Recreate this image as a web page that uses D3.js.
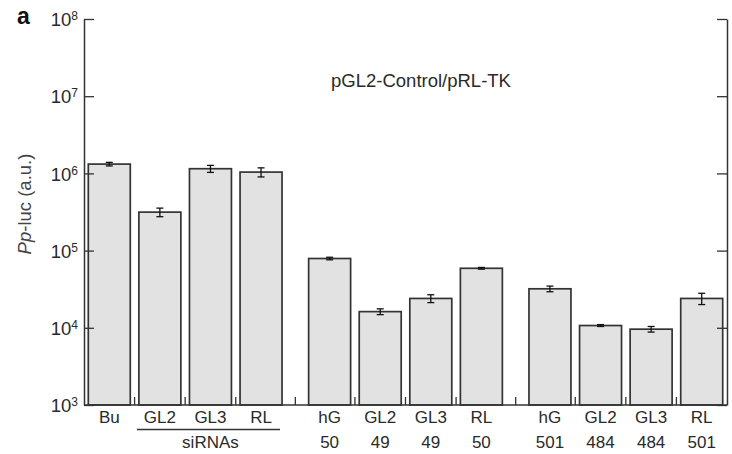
<!DOCTYPE html>
<html>
<head>
<meta charset="utf-8">
<script src="https://cdn.jsdelivr.net/npm/d3@7"></script>
<style>
  body { margin: 0; background: #fff; }
  svg { display: block; font-family: "Liberation Sans", Arial, Helvetica, sans-serif; }
</style>
</head>
<body>
<svg id="chart" width="732" height="454"></svg>
<script>
// bar data
const labels = ['Bu', 'GL2', 'GL3', 'RL', 'hG', 'GL2', 'GL3', 'RL', 'hG', 'GL2', 'GL3', 'RL'];
const subLabels = ['', '', '', '', '50', '49', '49', '50', '501', '484', '484', '501'];
const groups = [0, 0, 0, 0, 1, 1, 1, 1, 2, 2, 2, 2];
const values = [1.32e6, 3.15e5, 1.15e6, 1.04e6, 7.9e4, 1.62e4, 2.4e4, 5.9e4, 3.2e4, 1.07e4, 9.6e3, 2.4e4];
const errors = [0.07e6, 0.4e5, 0.12e6, 0.14e6, 0.3e4, 0.14e4, 0.28e4, 0.15e4, 0.27e4, 0.03e4, 0.8e3, 0.4e4];
const yTicks = [1e3, 1e4, 1e5, 1e6, 1e7, 1e8];

const groupGap = 0.356; // extra space between groups, in bar slots
const svg = d3.select('#chart');
const plotL = 84, plotR = 727, plotT = 19, plotB = 405;

// position of each bar in slot units
const slot = (d, i) => i + groups[i] * groupGap;
const nSlots = 11 + 2 * groupGap;

const x = d3.scaleLinear().domain([-0.5, nSlots + 0.5]).range([plotL, plotR]);
const y = d3.scaleLog().domain([1e3, 1e8]).range([plotB, plotT]);
const barW = (x(1) - x(0)) * 0.83;

// bars
svg.selectAll('.bar')
  .data(values)
  .enter().append('rect')
  .attr('class', 'bar')
  .attr('x', (d, i) => x(slot(d, i)) - barW / 2)
  .attr('y', d => y(d))
  .attr('width', barW)
  .attr('height', d => plotB - y(d))
  .style('fill', '#e2e2e2')
  .style('stroke', '#333')
  .style('stroke-width', 1.7);

// error bars
const err = svg.selectAll('.err')
  .data(values)
  .enter().append('g')
  .attr('class', 'err')
  .style('stroke', '#111')
  .style('stroke-width', 1.3);
err.append('line')
  .attr('x1', (d, i) => x(slot(d, i)))
  .attr('x2', (d, i) => x(slot(d, i)))
  .attr('y1', (d, i) => y(d + errors[i]))
  .attr('y2', (d, i) => y(d - errors[i]));
[1, -1].forEach(s => {
  err.append('line')
    .attr('x1', (d, i) => x(slot(d, i)) - 3.5)
    .attr('x2', (d, i) => x(slot(d, i)) + 3.5)
    .attr('y1', (d, i) => y(d + s * errors[i]))
    .attr('y2', (d, i) => y(d + s * errors[i]));
});

// left axis, ticks pointing in
const yAxis = d3.axisLeft(y)
  .tickValues(yTicks)
  .tickSizeInner(-10)
  .tickSizeOuter(0)
  .tickFormat(() => '');
const gy = svg.append('g')
  .attr('transform', `translate(${plotL},0)`)
  .call(yAxis);
gy.select('.domain').style('stroke', '#333').style('stroke-width', 1.5);
gy.selectAll('.tick line').style('stroke', '#333').style('stroke-width', 1.3);
gy.selectAll('.tick text')
  .style('font-size', '18.5px')
  .style('fill', '#2a2a2a')
  .attr('x', -6)
  .attr('dy', '0.36em')
  .each(function(d) {
    const t = d3.select(this);
    t.append('tspan').text('10');
    t.append('tspan')
      .attr('dy', '-0.5em')
      .style('font-size', '12px')
      .text(Math.round(Math.log10(d)));
  });

// right axis, no labels
const gr = svg.append('g')
  .attr('transform', `translate(${plotR},0)`)
  .call(d3.axisRight(y).tickValues(yTicks).tickSizeInner(-10).tickSizeOuter(0).tickFormat(() => ''));
gr.select('.domain').style('stroke', '#333').style('stroke-width', 1.5);
gr.selectAll('.tick line').style('stroke', '#333').style('stroke-width', 1.3);

// bottom baseline and small ticks between bars
svg.append('line')
  .attr('x1', plotL).attr('x2', plotR)
  .attr('y1', plotB).attr('y2', plotB)
  .style('stroke', '#333').style('stroke-width', 1.5);
const mids = d3.range(values.length - 1).map(i => (slot(null, i) + slot(null, i + 1)) / 2);
svg.selectAll('.xtick')
  .data(mids)
  .enter().append('line')
  .attr('x1', d => x(d)).attr('x2', d => x(d))
  .attr('y1', plotB).attr('y2', plotB - 8)
  .style('stroke', '#333').style('stroke-width', 1.3);

// x labels
svg.selectAll('.xlab')
  .data(labels)
  .enter().append('text')
  .attr('x', (d, i) => x(slot(d, i)))
  .attr('y', 423)
  .attr('text-anchor', 'middle')
  .style('font-size', '17px')
  .style('fill', '#2a2a2a')
  .text(d => d);
svg.selectAll('.xsub')
  .data(subLabels)
  .enter().append('text')
  .attr('x', (d, i) => x(slot(d, i)))
  .attr('y', 448)
  .attr('text-anchor', 'middle')
  .style('font-size', '17px')
  .style('fill', '#2a2a2a')
  .text(d => d);

// siRNAs bracket
svg.append('line')
  .attr('x1', x(1) - barW / 2 - 2).attr('x2', x(3) + barW / 2 - 2)
  .attr('y1', 429.5).attr('y2', 429.5)
  .style('stroke', '#333').style('stroke-width', 1.3);
svg.append('text')
  .attr('x', x(2))
  .attr('y', 448)
  .attr('text-anchor', 'middle')
  .style('font-size', '17px')
  .style('fill', '#2a2a2a')
  .text('siRNAs');

// title inside plot
svg.append('text')
  .attr('x', 421).attr('y', 87)
  .attr('text-anchor', 'middle')
  .style('font-size', '18.5px')
  .style('fill', '#2a2a2a')
  .text('pGL2-Control/pRL-TK');

// y-axis title
const yt = svg.append('text')
  .attr('transform', 'translate(31,204) rotate(-90)')
  .attr('text-anchor', 'middle')
  .style('font-size', '18.5px')
  .style('fill', '#444');
yt.append('tspan').style('font-style', 'italic').text('Pp');
yt.append('tspan').text('-luc (a.u.)');

// panel letter
svg.append('text')
  .attr('x', 17).attr('y', 24)
  .style('font-size', '23px')
  .style('font-weight', 'bold')
  .style('fill', '#111')
  .text('a');
</script>
</body>
</html>
